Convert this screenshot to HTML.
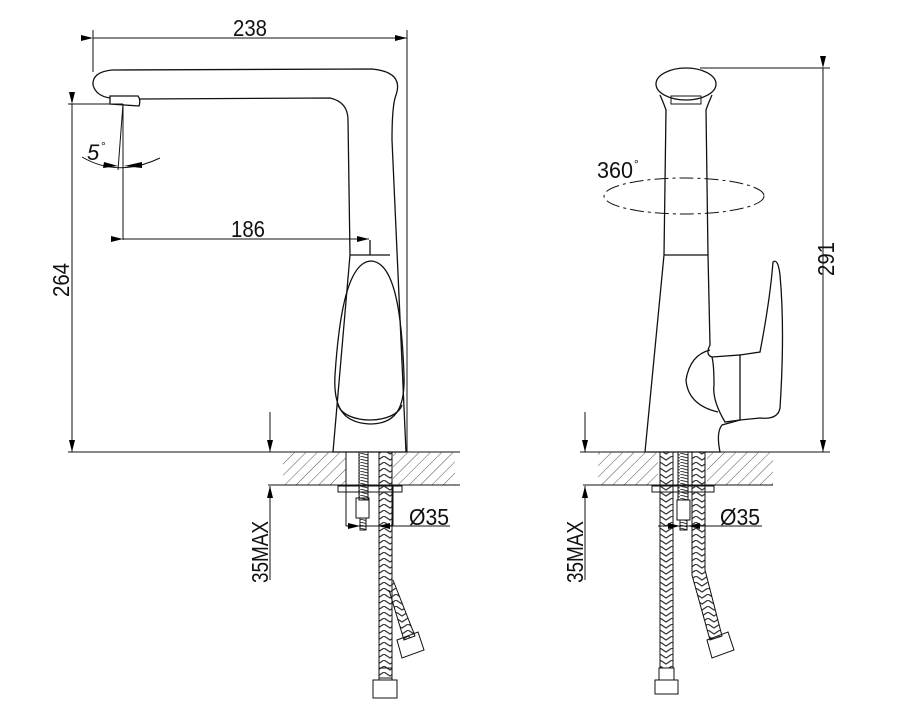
<!DOCTYPE html>
<html><head><meta charset="utf-8"><style>
html,body{margin:0;padding:0;background:#fff;}
svg{display:block;}
text{font-family:"Liberation Sans",sans-serif;fill:#111;}
</style></head><body>
<svg width="900" height="720" viewBox="0 0 900 720" xmlns="http://www.w3.org/2000/svg">
<defs>
<pattern id="hat" width="8" height="8" patternUnits="userSpaceOnUse" patternTransform="rotate(45)">
<line x1="0" y1="0" x2="0" y2="8" stroke="#555" stroke-width="1"/>
</pattern>
<pattern id="brd" width="12" height="6" patternUnits="userSpaceOnUse">
<polyline points="0,0 6,4 12,0" fill="none" stroke="#333" stroke-width="1.2"/>
</pattern>
<pattern id="thr" width="8" height="3" patternUnits="userSpaceOnUse">
<line x1="0" y1="0" x2="8" y2="2" stroke="#333" stroke-width="1"/>
</pattern>
<marker id="ar" markerWidth="12" markerHeight="6" refX="12" refY="3" orient="auto" markerUnits="userSpaceOnUse">
<path d="M0,0 L12,3 L0,6 Z" fill="#000"/>
</marker>
</defs>
<g fill="none" stroke="#111" stroke-width="1.3">
<line x1="93" y1="30" x2="93" y2="72" stroke-width="1"/>
<line x1="407" y1="30" x2="407" y2="452" stroke-width="1"/>
<line x1="93" y1="38" x2="407" y2="38" stroke-width="1" marker-end="url(#ar)" marker-start="url(#ar)"/>
<path d="M112,70 L372,69 Q404,72 396,95 Q392,105 392,140 L406,452"/>
<path d="M112,70 Q92,72 93,85 Q96,96 110,98"/>
<path d="M140,99 L330,98 Q348,102 348,120 L350,255"/>
<path d="M110,96 L138,96 Q141,100 139,106 L110,104 Z"/>
<line x1="350" y1="255" x2="390" y2="255"/>
<line x1="370" y1="240" x2="370" y2="255"/>
<path d="M350,255 L333,452 L406,452"/>
<path d="M371,261 C345,262 338,330 335,375 C333,410 345,423 370,424 C398,424 405,405 404,375 C402,320 396,262 371,261 Z"/>
<path d="M338,405 C345,425 395,425 402,405"/>
<line x1="123" y1="104" x2="123" y2="240" stroke-width="1"/>
<line x1="123" y1="104" x2="118" y2="170" stroke-width="1"/>
<path d="M82,157 Q118,178 160,158" stroke-width="1"/>
<path d="M118,166 L103,168 L104,162 Z" fill="#000" stroke="none"/>
<path d="M124,166 L142,168 L142,162 Z" fill="#000" stroke="none"/>
<line x1="123" y1="239" x2="369" y2="239" stroke-width="1" marker-end="url(#ar)" marker-start="url(#ar)"/>
<line x1="68" y1="104" x2="123" y2="104" stroke-width="1"/>
<line x1="72" y1="104" x2="72" y2="452" stroke-width="1" marker-end="url(#ar)" marker-start="url(#ar)"/>
<line x1="68" y1="452" x2="460" y2="452" stroke-width="1"/>
<rect x="283" y="452" width="63" height="33" fill="url(#hat)" stroke="none"/>
<rect x="393" y="452" width="62" height="33" fill="url(#hat)" stroke="none"/>
<line x1="268" y1="485" x2="460" y2="485" stroke-width="1"/>
<line x1="346" y1="452" x2="346" y2="526" stroke-width="1"/>
<rect x="338" y="486" width="64" height="6" stroke-width="1"/>
<line x1="270" y1="412" x2="270" y2="452" stroke-width="1" marker-end="url(#ar)"/>
<line x1="270" y1="580" x2="270" y2="486" stroke-width="1" marker-end="url(#ar)"/>
<rect x="359" y="452" width="9" height="48" fill="url(#thr)" stroke-width="1"/>
<rect x="356" y="498" width="13" height="20" stroke-width="1"/>
<rect x="360" y="518" width="6" height="12" fill="url(#thr)" stroke-width="1"/>
<rect x="379" y="452" width="13" height="226" fill="url(#brd)" stroke-width="1"/>
<path d="M389,590 L404,640 L415,636 L393,580" fill="url(#brd)" stroke-width="1"/>
<rect x="379" y="668" width="13" height="12" stroke-width="1"/>
<rect x="373" y="680" width="24" height="18" stroke-width="1"/>
<path d="M397,640 L418,632 L424,650 L402,658 Z" stroke-width="1"/>
<line x1="346" y1="526" x2="450" y2="526" stroke-width="1"/>
<line x1="346" y1="526" x2="360" y2="526" stroke-width="1" marker-end="url(#ar)"/>
<line x1="393" y1="526" x2="378" y2="526" stroke-width="1" marker-end="url(#ar)"/>
<line x1="393" y1="485" x2="393" y2="526" stroke-width="1"/>

<ellipse cx="686" cy="84" rx="30" ry="16"/>
<path d="M660,95 Q664,104 666,110 L664,255 L645,452 L720,452 Q716,432 722,425 L740,420"/>
<path d="M712,95 Q708,104 706,110 L708,255 L710,345 Q705,355 712,357"/>
<rect x="671" y="96" width="30" height="8" stroke-width="1"/>
<line x1="664" y1="255" x2="708" y2="255"/>
<path d="M710,350 Q690,355 686,380 Q688,405 718,412"/>
<path d="M712,357 L740,355 L740,420 L725,422 Q712,400 714,385 Q714,365 712,357"/>
<path d="M740,355 L760,352 Q770,300 773,262 Q778,258 780,275 Q785,330 780,408 Q778,420 760,418 L740,420"/>
<ellipse cx="684" cy="196" rx="80" ry="18" stroke-dasharray="14,4,3,4" stroke-width="1"/>
<line x1="700" y1="68" x2="830" y2="68" stroke-width="1"/>
<line x1="823" y1="68" x2="823" y2="452" stroke-width="1" marker-end="url(#ar)" marker-start="url(#ar)"/>
<line x1="720" y1="452" x2="830" y2="452" stroke-width="1"/>
<line x1="580" y1="452" x2="645" y2="452" stroke-width="1"/>
<rect x="598" y="452" width="60" height="33" fill="url(#hat)" stroke="none"/>
<rect x="707" y="452" width="66" height="33" fill="url(#hat)" stroke="none"/>
<line x1="583" y1="485" x2="773" y2="485" stroke-width="1"/>
<rect x="652" y="486" width="62" height="6" stroke-width="1"/>
<line x1="585" y1="412" x2="585" y2="452" stroke-width="1" marker-end="url(#ar)"/>
<line x1="585" y1="580" x2="585" y2="486" stroke-width="1" marker-end="url(#ar)"/>
<rect x="660" y="452" width="13" height="216" fill="url(#brd)" stroke-width="1"/>
<path d="M692,452 L705,452 L705,570 L722,636 L710,640 L692,575 Z" fill="url(#brd)" stroke-width="1"/>
<rect x="678" y="452" width="10" height="48" fill="url(#thr)" stroke-width="1"/>
<rect x="677" y="500" width="13" height="20" stroke-width="1"/>
<rect x="680" y="520" width="7" height="10" fill="url(#thr)" stroke-width="1"/>
<rect x="659" y="668" width="15" height="12" stroke-width="1"/>
<rect x="655" y="680" width="23" height="14" stroke-width="1"/>
<path d="M707,640 L728,632 L734,650 L712,658 Z" stroke-width="1"/>
<line x1="658" y1="526" x2="762" y2="526" stroke-width="1"/>
<line x1="658" y1="526" x2="680" y2="526" stroke-width="1" marker-end="url(#ar)"/>
<line x1="706" y1="526" x2="688" y2="526" stroke-width="1" marker-end="url(#ar)"/>
</g>
<g stroke="none">
<text x="233" y="36" font-size="23" textLength="34" lengthAdjust="spacingAndGlyphs">238</text>
<text x="231" y="237" font-size="23" textLength="34" lengthAdjust="spacingAndGlyphs">186</text>
<text x="87" y="160" font-size="22" font-style="italic">5</text>
<text x="101" y="150" font-size="12">°</text>
<text transform="translate(69,297) rotate(-90)" font-size="23" textLength="34" lengthAdjust="spacingAndGlyphs">264</text>
<text transform="translate(268,583) rotate(-90)" font-size="23" textLength="62" lengthAdjust="spacingAndGlyphs">35MAX</text>
<text x="409" y="525" font-size="23" textLength="40" lengthAdjust="spacingAndGlyphs">Ø35</text>
<text x="597" y="178" font-size="23" textLength="36" lengthAdjust="spacingAndGlyphs">360</text>
<text x="634" y="168" font-size="12">°</text>
<text transform="translate(834,276) rotate(-90)" font-size="23" textLength="34" lengthAdjust="spacingAndGlyphs">291</text>
<text transform="translate(583,583) rotate(-90)" font-size="23" textLength="62" lengthAdjust="spacingAndGlyphs">35MAX</text>
<text x="720" y="525" font-size="23" textLength="40" lengthAdjust="spacingAndGlyphs">Ø35</text>
</g>
</svg>
</body></html>
